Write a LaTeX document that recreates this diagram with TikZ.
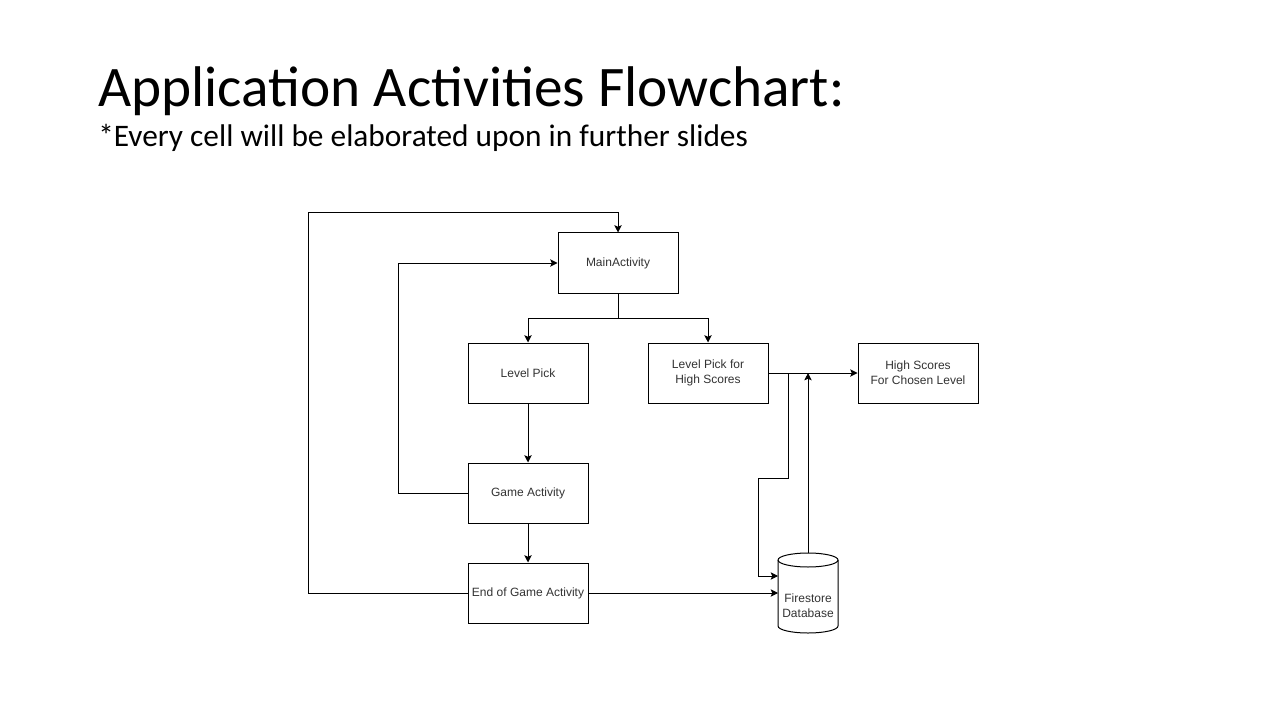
\documentclass[tikz,border=0pt]{standalone}
\usepackage{fontspec}
\setmainfont{Carlito}
\newfontfamily\boxfont{Liberation Sans}
\usetikzlibrary{arrows.meta}
\definecolor{boxtext}{HTML}{333333}
\tikzset{
  pbox/.style={draw=black, line width=0.75pt, fill=white, minimum width=90pt, minimum height=45pt, inner sep=0pt, align=center, font=\boxfont\fontsize{9pt}{11.25pt}\selectfont, text=boxtext},
  conn/.style={draw=black, line width=0.75pt, -{Stealth[length=5.5pt,width=5.5pt,inset=1.2pt]}},
  plain/.style={draw=black, line width=0.75pt}
}
\begin{document}
\begin{tikzpicture}[x=0.75pt,y=-0.75pt]
\useasboundingbox (0,0) rectangle (1280,720);
% titles
\node[anchor=base west, inner sep=0pt, font=\fontsize{43pt}{52pt}\selectfont] (title) at (98,107) {Application Activities Flowchart:};
\node[anchor=base west, inner sep=0pt, font=\fontsize{23.5pt}{28pt}\selectfont] (subtitle) at (98,147) {*Every cell will be elaborated upon in further slides};
% boxes
\node[pbox] (main) at (618,263) {MainActivity};
\node[pbox] (lp) at (528,373) {Level Pick};
\node[pbox] (lphs) at (708,373) {Level Pick for\\High Scores};
\node[pbox] (hs) at (918,373) {High Scores\\For Chosen Level};
\node[pbox] (game) at (528,493) {Game Activity};
\node[pbox] (end) at (528,593) {End of Game Activity};
% cylinder
\node[minimum width=45pt, minimum height=60pt, inner sep=0pt] (db) at (808,593) {};
\draw[line width=0.75pt, fill=white] (778,560) -- (778,626) arc[start angle=180, end angle=0, x radius=30, y radius=7] -- (838,560) arc[start angle=0, end angle=-180, x radius=30, y radius=7] -- cycle;
\draw[line width=0.75pt] (778,560) arc[start angle=180, end angle=0, x radius=30, y radius=7];
\node[align=center, inner sep=0pt, font=\boxfont\fontsize{9pt}{11.25pt}\selectfont, text=boxtext] (dblabel) at (808,606) {Firestore\\Database};
% connectors
\coordinate (split) at (618,318);
\draw[plain] (main.south) -- (split);
\draw[conn] (split) -| (lp.north);
\draw[conn] (split) -| (lphs.north);
\draw[conn] (lp) -- (game);
\draw[conn] (game) -- (end);
\draw[conn] (game.west) -- (398,493) |- (main.west);
\draw[conn] (end.west) -- (308,593) |- (618,213) -- (main.north);
\draw[conn] (end.east) -- (778,593);
\draw[conn] (lphs.east) -- (hs.west);
\coordinate (tap) at (788,373);
\draw[conn] (tap) -- (788,478) -- (758,478) |- (778,576);
\draw[conn] (808,553) -- (808,373);
\end{tikzpicture}
\end{document}
